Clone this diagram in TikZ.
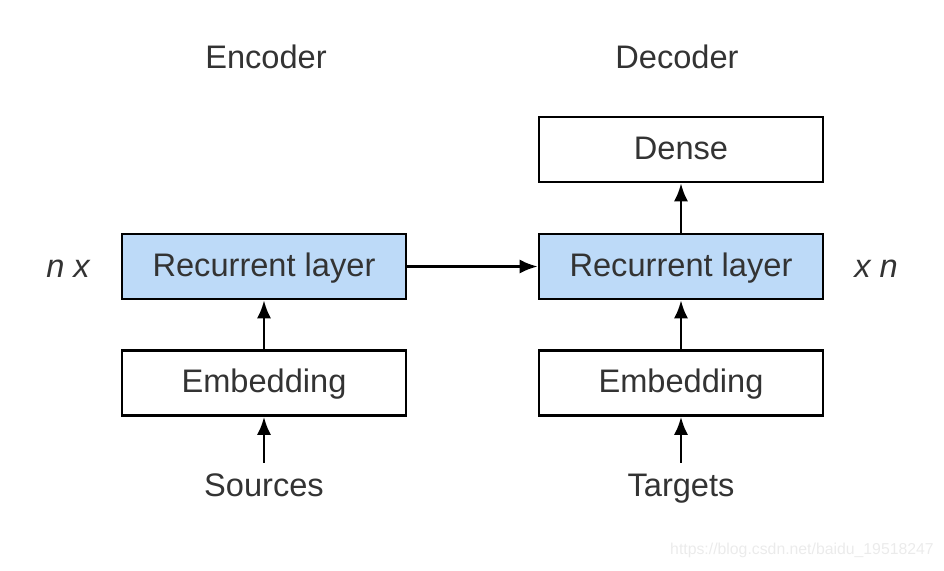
\documentclass[tikz,border=0pt]{standalone}
\usepackage{fontspec}
\setmainfont{Liberation Sans}
\usetikzlibrary{arrows.meta}
\definecolor{layerblue}{RGB}{189,218,248}
\definecolor{txtgray}{RGB}{51,51,51}
\begin{document}
\begin{tikzpicture}[x=0.5pt, y=-0.5pt, >={Latex[length=9pt,width=7pt]},
   block/.style={draw=black, line width=1.3pt, minimum width=142pt, minimum height=32.5pt,
     inner sep=0pt, text height=11.7pt, text depth=2pt, text=txtgray,
     font=\fontsize{16.3}{19}\selectfont},
   rnn/.style={block, fill=layerblue},
   txt/.style={text=txtgray, inner sep=1pt, text height=11.7pt, text depth=0pt,
     font=\fontsize{16.3}{19}\selectfont},
   link/.style={->, line width=1.3pt}
   ]
   \useasboundingbox (0,0) rectangle (944,570);

   % encoder side
   \path (266,57) node[txt] (enclabel) {Encoder}
   (264,266.5) node[rnn] (encrnn) {Recurrent layer}
   (264,383) node[block] (encemb) {Embedding}
   (264,485) node[txt] (src) {Sources}
   (68,266) node[txt] (nx) {\itshape n x};

   % decoder side
   \path (677,57) node[txt] (declabel) {Decoder}
   (681,149.5) node[block] (dense) {Dense}
   (681,266.5) node[rnn] (decrnn) {Recurrent layer}
   (681,383) node[block] (decemb) {Embedding}
   (681,485) node[txt] (tgt) {Targets}
   (876,266) node[txt] (xn) {\itshape x n};

   \draw[link] ([yshift=4pt]src.north) -- (encemb);
   \draw[link] (encemb) -- (encrnn);
   \draw[link] (encrnn) -- (decrnn);
   \draw[link] ([yshift=4pt]tgt.north) -- (decemb);
   \draw[link] (decemb) -- (decrnn);
   \draw[link] (decrnn) -- (dense);

   % watermark
   \path (802,550) node[text=black!8, inner sep=0pt, font=\fontsize{7.9}{9}\selectfont] (mark) {https://blog.csdn.net/baidu\_19518247};
\end{tikzpicture}
\end{document}
